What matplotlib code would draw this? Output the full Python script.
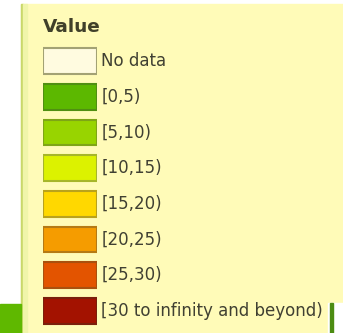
import matplotlib.pyplot as plt
from matplotlib.patches import Rectangle

W, H = 343, 333

categories = [
    "No data",
    "[0,5)",
    "[5,10)",
    "[10,15)",
    "[15,20)",
    "[20,25)",
    "[25,30)",
    "[30 to infinity and beyond)",
]
fill_colors = [
    "#fffbe0", "#5cb800", "#98d400", "#dcf200",
    "#ffd800", "#f59c00", "#e35400", "#a31200",
]
edge_colors = [
    "#a3a274", "#4f8f12", "#7ea516", "#a6b62a",
    "#b9a21c", "#b57a14", "#a9500f", "#7a1f0c",
]

PANEL = "#fffbb8"
TEXT = "#404032"


def px(x, y):
    # pixel position (from top-left) to figure fraction
    return x / W, 1 - y / H


def draw_background(fig):
    fig.patches.append(Rectangle(px(21, 333), (W - 21) / W, (333 - 4) / H,
                                 transform=fig.transFigure, color=PANEL, zorder=0))
    fig.patches.append(Rectangle(px(21, 333), 1.6 / W, (333 - 4) / H,
                                 transform=fig.transFigure, color="#c9d86a", zorder=1))
    fig.patches.append(Rectangle(px(22.6, 333), 4 / W, (333 - 4) / H,
                                 transform=fig.transFigure, color="#f0f5aa", zorder=1))
    # cut-out corner bottom right with the dark green rule
    fig.patches.append(Rectangle(px(328, 333), (W - 328) / W, (333 - 303) / H,
                                 transform=fig.transFigure, color="white", zorder=1))
    fig.patches.append(Rectangle(px(330, 333), 3 / W, (333 - 303) / H,
                                 transform=fig.transFigure, color="#4c8c12", zorder=2))
    # green block bottom left
    fig.patches.append(Rectangle(px(0, 333), 21 / W, (333 - 304) / H,
                                 transform=fig.transFigure, color="#5fb800", zorder=2))


def main():
    fig = plt.figure(figsize=(W / 100, H / 100), dpi=100)
    fig.patch.set_facecolor("white")
    draw_background(fig)

    # swatch column: x 43..97 px, rows centred from 61 px with 35.7 px pitch
    pitch = 35.7
    top = 61 - pitch / 2
    bottom = top + pitch * len(categories)
    ax = fig.add_axes([43 / W, 1 - bottom / H, 54 / W, (bottom - top) / H])
    ax.set_zorder(5)
    ax.set_xlim(0, 1)
    ax.set_ylim(len(categories) - 0.5, -0.5)
    ax.axis("off")

    rows = range(len(categories))
    ax.barh(rows, 1, left=0, height=0.72, color=fill_colors,
            edgecolor=edge_colors, linewidth=1.5, zorder=3)
    for i, label in enumerate(categories):
        ax.text(1.08, i, label, fontsize=12.0, color=TEXT, va="center",
                ha="left", family="DejaVu Sans", clip_on=False)

    fig.text(*px(43, 27), "Value", fontsize=13.3, fontweight="bold",
             color="#40402a", va="center", ha="left", family="DejaVu Sans",
             zorder=6)

    fig.savefig("out.png", dpi=100)
    plt.close(fig)


if __name__ == "__main__":
    main()
